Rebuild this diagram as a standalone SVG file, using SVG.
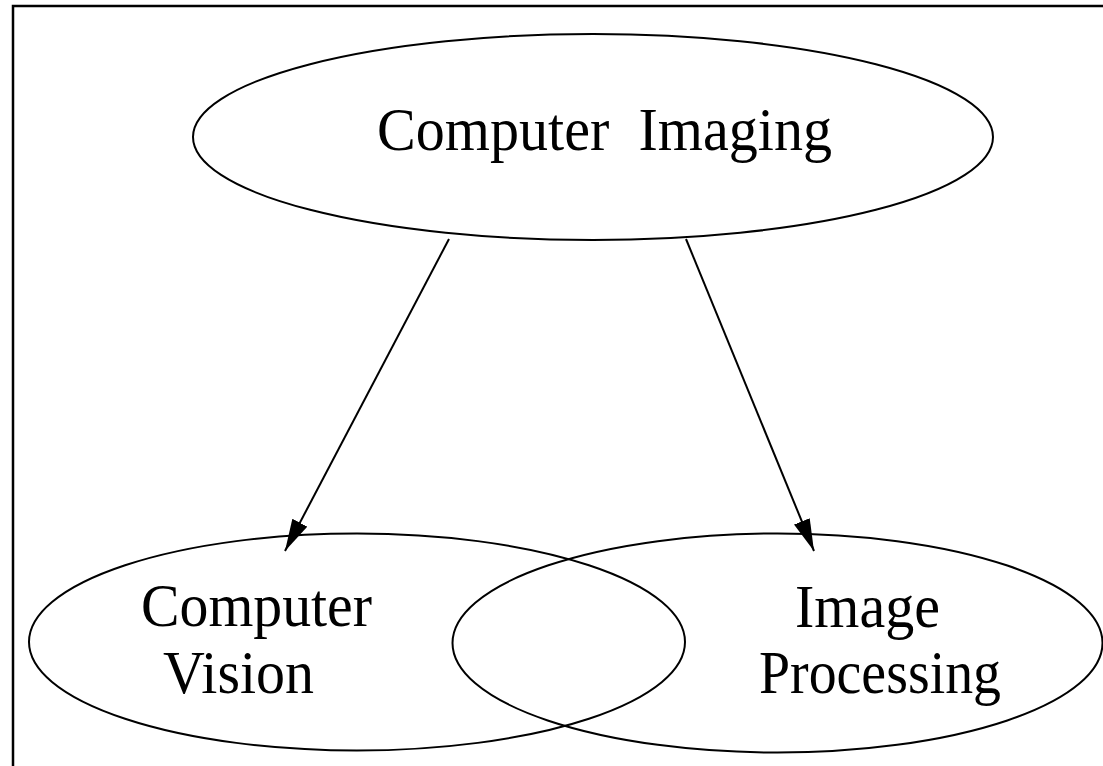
<svg xmlns="http://www.w3.org/2000/svg" width="1103" height="766" viewBox="0 0 1103 766">
<style>
.shape{fill:none;stroke:#000;stroke-width:2}
.lbl{font-family:"Liberation Serif","Times New Roman",serif;font-size:62px;fill:#000}
.edge{stroke:#000;stroke-width:2;fill:none}
</style>
<defs>
<marker id="ah" markerUnits="userSpaceOnUse" markerWidth="34" markerHeight="18" refX="32" refY="8.5" orient="auto" viewBox="0 0 34 18">
<path d="M0,0 L32,8.5 L0,17 z" fill="#000"/>
</marker>
</defs>
<rect width="1103" height="766" fill="#fff"/>
<path d="M13,766 V6 H1103" fill="none" stroke="#000" stroke-width="2.5"/>
<g id="computer-imaging">
<ellipse class="shape" cx="593" cy="137" rx="400" ry="103"/>
<text class="lbl" x="377" y="150" textLength="455" lengthAdjust="spacingAndGlyphs" xml:space="preserve">Computer  Imaging</text>
</g>
<g id="computer-vision">
<ellipse class="shape" cx="357" cy="642" rx="328" ry="108.5"/>
<text class="lbl" x="141" y="626" textLength="231" lengthAdjust="spacingAndGlyphs">Computer</text>
<text class="lbl" x="163" y="693" textLength="151" lengthAdjust="spacingAndGlyphs">Vision</text>
</g>
<g id="image-processing">
<ellipse class="shape" cx="777.5" cy="643" rx="325" ry="109.5"/>
<text class="lbl" x="795" y="627" textLength="145" lengthAdjust="spacingAndGlyphs">Image</text>
<text class="lbl" x="759" y="693" textLength="242" lengthAdjust="spacingAndGlyphs">Processing</text>
</g>
<g id="connectors">
<line class="edge" x1="449" y1="239" x2="285" y2="551" marker-end="url(#ah)"/>
<line class="edge" x1="686" y1="239" x2="814" y2="551" marker-end="url(#ah)"/>
</g>
</svg>
